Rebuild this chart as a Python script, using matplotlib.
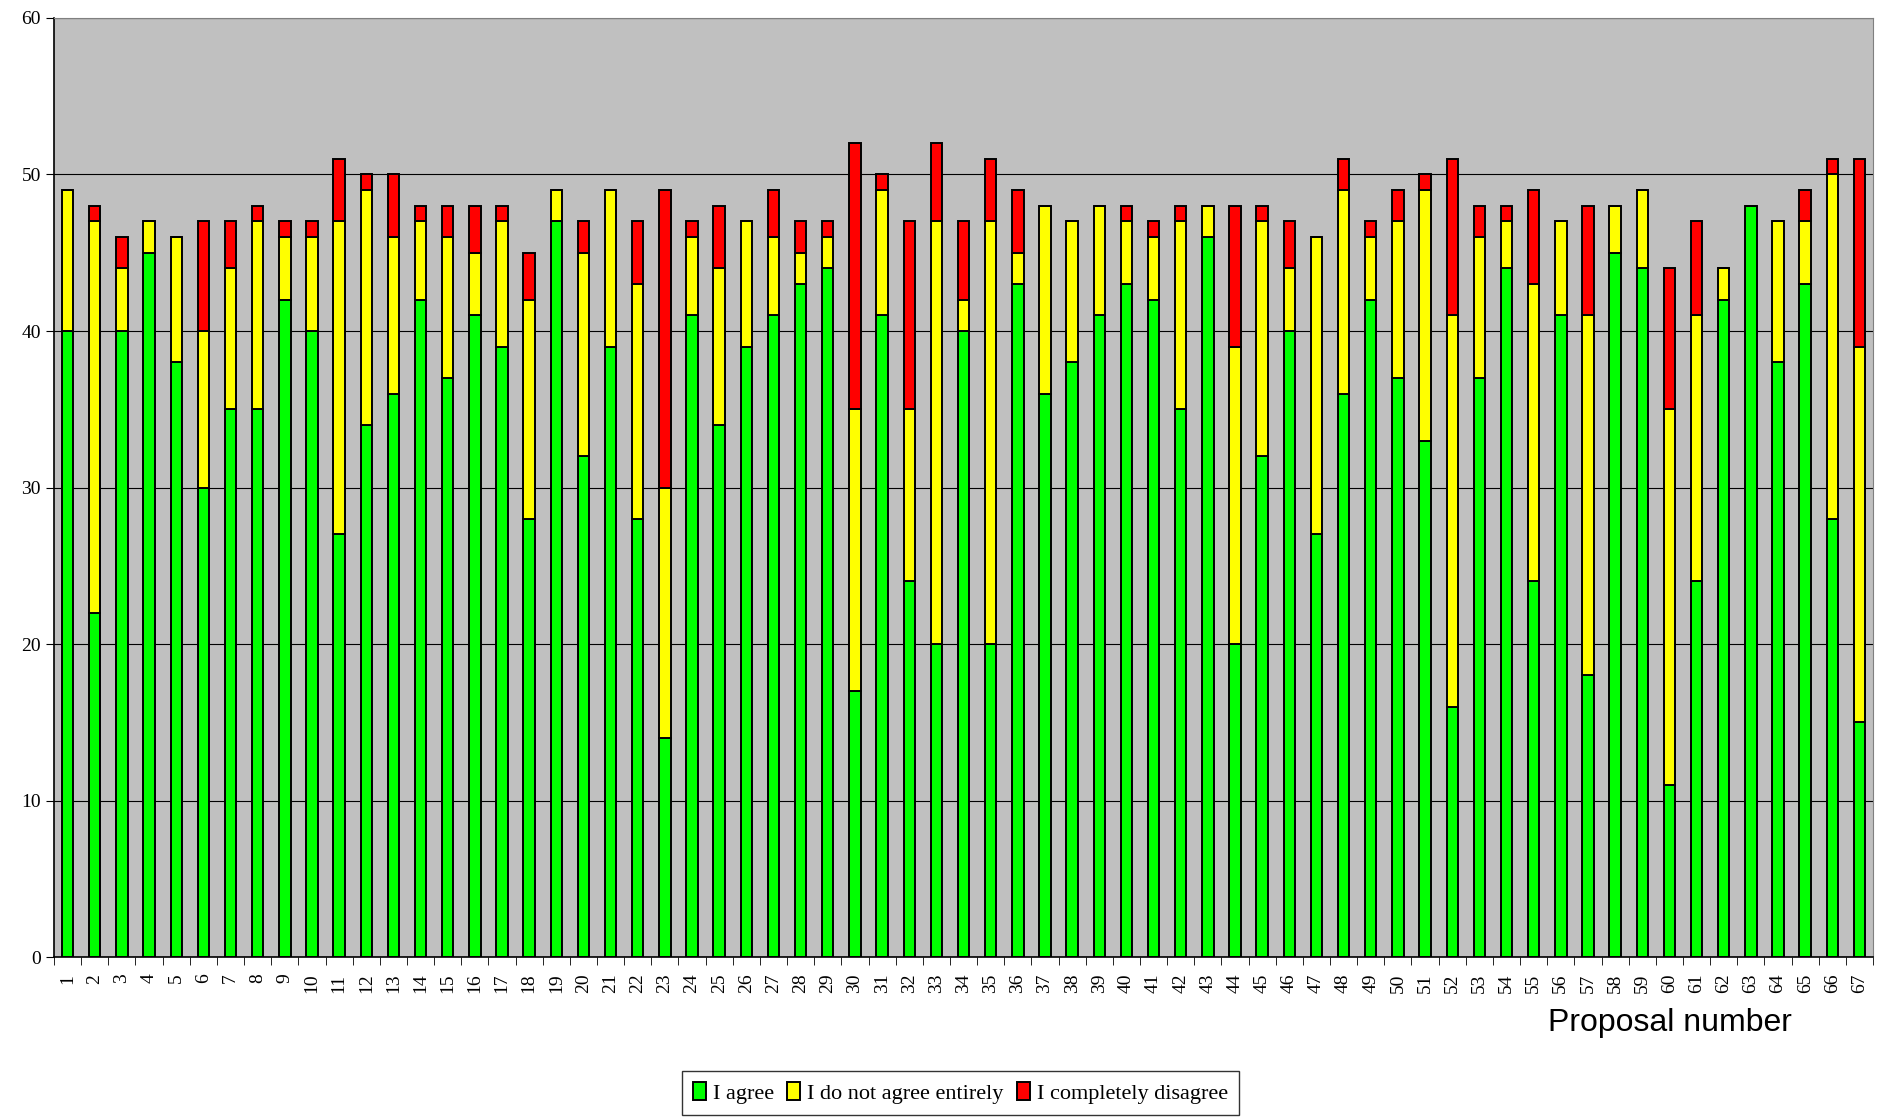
import numpy as np
import matplotlib
matplotlib.use("Agg")
import matplotlib.pyplot as plt
from matplotlib.ticker import FixedLocator

# votes per proposal
proposals = list(range(1, 68))
agree = [40, 22, 40, 45, 38, 30, 35, 35, 42, 40,
         27, 34, 36, 42, 37, 41, 39, 28, 47, 32,
         39, 28, 14, 41, 34, 39, 41, 43, 44, 17,
         41, 24, 20, 40, 20, 43, 36, 38, 41, 43,
         42, 35, 46, 20, 32, 40, 27, 36, 42, 37,
         33, 16, 37, 44, 24, 41, 18, 45, 44, 11,
         24, 42, 48, 38, 43, 28, 15]
not_entirely = [9, 25, 4, 2, 8, 10, 9, 12, 4, 6,
                20, 15, 10, 5, 9, 4, 8, 14, 2, 13,
                10, 15, 16, 5, 10, 8, 5, 2, 2, 18,
                8, 11, 27, 2, 27, 2, 12, 9, 7, 4,
                4, 12, 2, 19, 15, 4, 19, 13, 4, 10,
                16, 25, 9, 3, 19, 6, 23, 3, 5, 24,
                17, 2, 0, 9, 4, 22, 24]
disagree = [0, 1, 2, 0, 0, 7, 3, 1, 1, 1,
            4, 1, 4, 1, 2, 3, 1, 3, 0, 2,
            0, 4, 19, 1, 4, 0, 3, 2, 1, 17,
            1, 12, 5, 5, 4, 4, 0, 0, 0, 1,
            1, 1, 0, 9, 1, 3, 0, 2, 1, 2,
            1, 10, 2, 1, 6, 0, 7, 0, 0, 9,
            6, 0, 0, 0, 2, 1, 12]

series_names = ["I agree", "I do not agree entirely", "I completely disagree"]
colors = ["#00FF00", "#FFFF00", "#FF0000"]

fig = plt.figure(figsize=(18.83, 11.17), dpi=100)
ax = fig.add_axes([0.0287, 0.1432, 0.966, 0.8407])
ax.set_facecolor("#C0C0C0")

x = np.array(proposals)
bottom = np.zeros(len(x))
for vals, name, col in zip([agree, not_entirely, disagree], series_names, colors):
    vals = np.array(vals)
    ax.bar(x, vals, width=0.42, bottom=bottom, color=col, edgecolor="black",
           linewidth=1.4, label=name, zorder=3)
    bottom += vals

ax.set_xlim(0.5, 67.5)
ax.set_ylim(0, 60)
ax.set_yticks(range(0, 61, 10))
ax.yaxis.grid(True, color="black", linewidth=0.8, zorder=0)
ax.set_axisbelow(True)

# category labels at centres, tick marks between categories
ax.set_xticks(x)
ax.set_xticklabels([str(p) for p in proposals], rotation=90,
                   family="Liberation Serif", fontsize=14)
ax.tick_params(axis="x", which="major", length=0, pad=12)
ax.xaxis.set_minor_locator(FixedLocator(np.arange(0.5, 68, 1)))
ax.tick_params(axis="x", which="minor", length=6, direction="out", color="black")
ax.tick_params(axis="y", length=6, direction="out", labelsize=14)
for lab in ax.get_yticklabels():
    lab.set_family("Liberation Serif")

for side in ["left", "bottom"]:
    ax.spines[side].set_color("black")
    ax.spines[side].set_linewidth(1.2)
for side in ["top", "right"]:
    ax.spines[side].set_color("#808080")

fig.text(0.887, 0.084, "Proposal number", family="Liberation Sans",
         fontsize=23, ha="center", va="center")

leg = fig.legend(loc="center", bbox_to_anchor=(0.51, 0.0215), ncol=3,
                 frameon=True, fancybox=False, edgecolor="black",
                 prop={"family": "Liberation Serif", "size": 16},
                 handlelength=0.6, handleheight=0.9, handletextpad=0.3,
                 columnspacing=0.6, borderpad=0.5)
leg.get_frame().set_linewidth(1.0)

fig.savefig("out.png", dpi=100)
